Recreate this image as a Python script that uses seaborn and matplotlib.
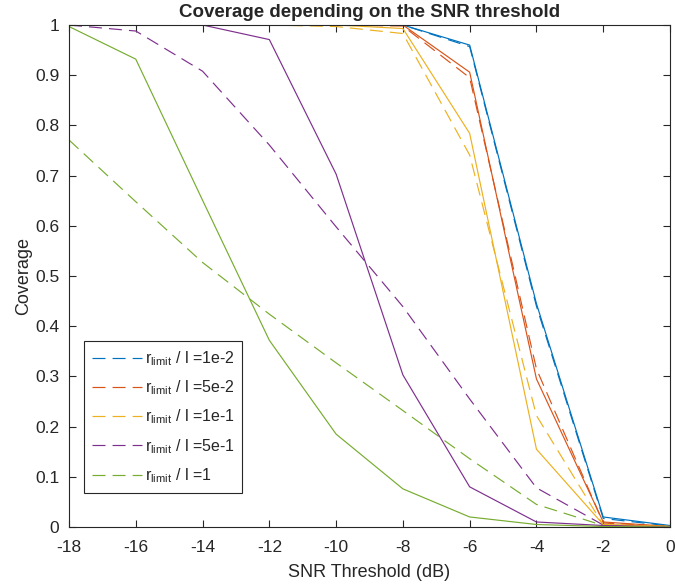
import matplotlib
matplotlib.use("Agg")
import matplotlib.pyplot as plt
import seaborn as sns
import pandas as pd

snr = [-18, -16, -14, -12, -10, -8, -6, -4, -2, 0]
labels = ["1e-2", "5e-2", "1e-1", "5e-1", "1"]
colors = ["#0072BD", "#D95319", "#EDB120", "#7E2F8E", "#77AC30"]

blue_s = [1, 1, 1, 1, 1, 1, 0.960, 0.445, 0.020, 0.003]
blue_d = [1, 1, 1, 1, 1, 1, 0.957, 0.440, 0.017, 0.002]
red_s = [1, 1, 1, 1, 1, 1, 0.906, 0.295, 0.010, 0.001]
red_d = [1, 1, 1, 1, 1, 0.998, 0.895, 0.315, 0.008, 0.001]
yellow_s = [1, 1, 1, 1, 1, 0.993, 0.784, 0.155, 0.005, 0.001]
yellow_d = [1, 1, 1, 1, 0.997, 0.983, 0.741, 0.222, 0.004, 0.001]
purple_s = [1, 1, 1, 0.971, 0.703, 0.303, 0.080, 0.010, 0.003, 0.0]
purple_d = [1.0, 0.988, 0.908, 0.761, 0.598, 0.439, 0.255, 0.078, 0.004, 0.0]
green_s = [0.997, 0.932, 0.651, 0.372, 0.185, 0.076, 0.020, 0.005, 0.001, 0.0]
green_d = [0.771, 0.648, 0.527, 0.424, 0.327, 0.232, 0.136, 0.045, 0.003, 0.0]

solid = [blue_s, red_s, yellow_s, purple_s, green_s]
dashed = [blue_d, red_d, yellow_d, purple_d, green_d]

xticks = [-18, -16, -14, -12, -10, -8, -6, -4, -2, 0]
yticks = [0, 0.1, 0.2, 0.3, 0.4, 0.5, 0.6, 0.7, 0.8, 0.9, 1]
ytick_labels = ["0", "0.1", "0.2", "0.3", "0.4", "0.5", "0.6", "0.7", "0.8", "0.9", "1"]

sns.set_style("ticks")
plt.rcParams["font.family"] = ["Liberation Sans", "DejaVu Sans"]
plt.rcParams["mathtext.fontset"] = "custom"
plt.rcParams["mathtext.rm"] = "Liberation Sans"
plt.rcParams["mathtext.it"] = "Liberation Sans:italic"
plt.rcParams["mathtext.bf"] = "Liberation Sans:bold"
plt.rcParams["axes.unicode_minus"] = False

fig = plt.figure(figsize=(6.75, 5.87), dpi=100)
ax = fig.add_axes([0.1022, 0.1022, 0.8904, 0.8552])

lw = 0.85
dash = (0, (11.0, 6.0))
for vals, c, lab in zip(dashed, colors, labels):
    df = pd.DataFrame({"snr": snr, "cov": vals})
    sns.lineplot(data=df, x="snr", y="cov", ax=ax, color=c, linewidth=lw,
                 linestyle=dash, label=r"r$_{\mathrm{limit}}$ / l =" + lab)
for vals, c in zip(solid, colors):
    df = pd.DataFrame({"snr": snr, "cov": vals})
    sns.lineplot(data=df, x="snr", y="cov", ax=ax, color=c, linewidth=lw,
                 label="_nolegend_")

ax.set_xlim(-18, 0)
ax.set_ylim(0, 1)
ax.set_xticks(xticks)
ax.set_xticklabels([str(t) for t in xticks])
ax.set_yticks(yticks)
ax.set_yticklabels(ytick_labels)

axcol = "#262626"
for s in ax.spines.values():
    s.set_visible(True)
    s.set_color(axcol)
    s.set_linewidth(0.8)
ax.tick_params(direction="in", length=5, width=0.8, color=axcol,
               labelsize=12.5, labelcolor=axcol, top=True, right=True)
ax.tick_params(axis="x", pad=9)
ax.tick_params(axis="y", pad=7)

ax.set_xlabel("SNR Threshold (dB)", fontsize=13, color=axcol, labelpad=6.5)
ax.set_ylabel("Coverage", fontsize=13, color=axcol, labelpad=2)
ax.set_title("Coverage depending on the SNR threshold", fontsize=13.5,
             fontweight="bold", pad=5.5)

leg = ax.legend(loc="lower left", bbox_to_anchor=(0.025, 0.068), borderaxespad=0,
                fontsize=11.5, frameon=True, fancybox=False, handlelength=3.1,
                handletextpad=0.2, labelspacing=0.66, borderpad=0.5)
leg.get_frame().set_edgecolor(axcol)
leg.get_frame().set_linewidth(0.8)
leg.get_frame().set_alpha(1)

fig.savefig("out.png", dpi=100)
